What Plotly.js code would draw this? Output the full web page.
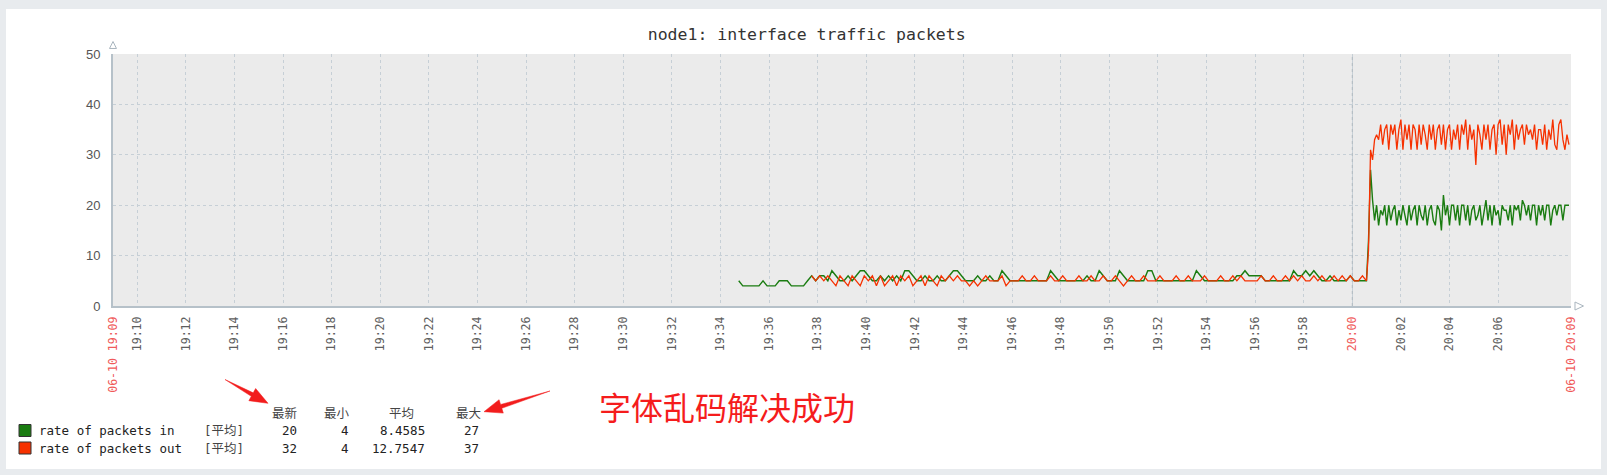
<!DOCTYPE html>
<html><head><meta charset="utf-8">
<script src="https://cdn.plot.ly/plotly-3.0.1.min.js"></script>
<style>
html,body{margin:0;padding:0;background:#e8ebee;width:1607px;height:475px;overflow:hidden;}
#chart{position:absolute;left:6px;top:9px;width:1595px;height:460px;background:#fff;}
</style></head><body><div id="chart"></div>
<script>
const chartTitle = 'node1: interface traffic packets';
const seriesNames = ['rate of packets in', 'rate of packets out'];
const seriesColors = ['#1a7c11', '#f63100'];
const dayPrefix = '2021-06-10 ';
const inLowStart = '19:34:45';
const outLowStart = '19:37:45';
const highStart = '20:00:40';
const lowStepSec = 10;
const highStepSec = 5;

const inLowValues = [5,4,4,4,4,4,5,4,4,4,5,5,5,4,4,4,4,5,
  6,5,6,6,5,7, 6,5,5,6,5,6, 7,7,6,5,5,6, 5,6,5,6,5,7, 7,6,5,5,6,5,
  5,6,5,5,6,7, 7,6,5,5,5,6, 5,5,6,5,5,7, 6,5,5,5,5,5, 5,5,5,5,5,7,
  6,5,5,5,5,5, 5,5,6,5,5,7, 6,5,5,5,7,6, 5,5,5,5,5,7, 7,5,5,5,5,5,
  5,5,5,5,5,7, 6,5,5,5,5,5, 5,5,5,6,6,7, 6,6,6,6,5,5, 5,5,5,5,5,7,
  6,6,7,6,7,6, 5,5,6,5,5,5, 5,6,5,5,5,5];

const outLowValues = [
  6,5,6,5,6,5, 4,6,5,4,6,5, 4,6,5,6,4,6, 4,5,6,4,6,5, 6,4,5,6,4,6,
  5,4,6,5,6,5, 6,5,5,4,5,4, 5,6,5,5,5,6, 4,5,5,5,6,5, 5,6,5,5,5,6,
  5,5,6,5,5,5, 6,5,5,6,5,5, 6,5,5,6,5,4, 5,6,5,5,6,5, 5,5,6,5,5,5,
  6,5,5,6,5,5, 5,6,5,5,5,6, 5,5,6,5,6,5, 5,5,5,6,5,5, 6,5,5,6,5,6,
  5,6,5,5,6,5, 6,5,5,6,5,6, 5,6,5,5,6,5];

const inHighValues = [13,27,21,17,20,16,19,18,20,16,
  20,17,19,20,16,19,17,20,18,16,
  20,17,19,20,16,20,18,17,20,16,
  19,20,17,16,20,19,15,22,18,20,
  16,20,20,17,20,16,20,20,17,20,
  16,19,20,17,18,20,16,19,21,17,
  20,16,20,18,19,16,20,19,19,17,
  20,16,20,19,20,17,21,20,18,20,
  17,20,20,16,20,18,20,17,20,20,
  16,19,20,18,20,20,17,20,20,20];

const outHighValues = [11,31,29,33,34,33,36,32,35,36,
  31,36,34,36,31,35,37,31,36,33,
  36,31,36,35,31,36,32,36,34,31,
  36,33,36,31,35,36,32,36,31,35,
  36,31,35,33,36,31,36,34,37,31,
  36,33,35,28,36,34,31,36,33,36,
  31,35,36,30,36,37,32,36,30,36,
  34,37,31,36,33,35,36,32,36,34,
  35,33,36,31,35,35,32,36,31,35,
  33,37,32,31,36,37,33,31,34,32];

const tickTimes = ['19:09','19:10','19:12','19:14','19:16','19:18','19:20','19:22','19:24','19:26','19:28',
  '19:30','19:32','19:34','19:36','19:38','19:40','19:42','19:44','19:46','19:48','19:50','19:52',
  '19:54','19:56','19:58','20:00','20:02','20:04','20:06','20:09'];
const tickLabels = ['06-10 19:09','19:10','19:12','19:14','19:16','19:18','19:20','19:22','19:24','19:26','19:28',
  '19:30','19:32','19:34','19:36','19:38','19:40','19:42','19:44','19:46','19:48','19:50','19:52',
  '19:54','19:56','19:58','20:00','20:02','20:04','20:06','06-10 20:09'];
const highlightedTicks = ['06-10 19:09','20:00','06-10 20:09'];
const xRange = ['19:09','20:09'];
const yRange = [0, 50];

const legendHeader = ['最新','最小','平均','最大'];
const legendFunc = '[平均]';
const legendStats = [['20','4','8.4585','27'], ['32','4','12.7547','37']];
const noteText = '字体乱码解决成功';

function timeSeq(start, step, n) {
  const t0 = Date.parse((dayPrefix + start).replace(' ', 'T') + 'Z');
  const out = [];
  for (let i = 0; i < n; i++) out.push(new Date(t0 + i * step * 1000).toISOString().slice(0, 19).replace('T', ' '));
  return out;
}

const inX = timeSeq(inLowStart, lowStepSec, inLowValues.length).concat(timeSeq(highStart, highStepSec, inHighValues.length));
const inY = inLowValues.concat(inHighValues);
const outX = timeSeq(outLowStart, lowStepSec, outLowValues.length).concat(timeSeq(highStart, highStepSec, outHighValues.length));
const outY = outLowValues.concat(outHighValues);

// page pixel -> paper helpers (plot area spans x 113..1571, y 54..306 on the page)
const PL = 113, PW = 1458, PB = 306, PH = 252;
const px = x => (x - PL) / PW;
const py = y => (PB - y) / PH;
function poly(pts) {
  return 'M ' + pts.map(p => px(p[0]).toFixed(5) + ',' + py(p[1]).toFixed(5)).join(' L ') + ' Z';
}

const traces = [
  {x: inX, y: inY, type: 'scatter', mode: 'lines', name: seriesNames[0], line: {color: seriesColors[0], width: 1.4}, hoverinfo: 'x+y'},
  {x: outX, y: outY, type: 'scatter', mode: 'lines', name: seriesNames[1], line: {color: seriesColors[1], width: 1.3}, hoverinfo: 'x+y'}
];

const ticktext = tickLabels.map(t => highlightedTicks.includes(t) ? '<span style="color:#f05a5a">' + t + '</span>' : t);

const monoFont = '"DejaVu Sans Mono", "Noto Sans CJK SC", monospace';
const cjkFont = '"Noto Sans CJK SC", "DejaVu Sans Mono", sans-serif';

const annotations = [];
const headRight = [298.5, 352, 416, 483];
legendHeader.forEach((h, i) => annotations.push({xref: 'paper', yref: 'paper', x: px(headRight[i]), y: py(412.5), xanchor: 'right', yanchor: 'middle', text: h, showarrow: false, font: {family: cjkFont, size: 12.5, color: '#444'}}));
const statRight = [298.5, 351, 427, 481];
const rowY = [430.7, 448.3];
seriesNames.forEach((n, r) => {
  annotations.push({xref: 'paper', yref: 'paper', x: px(37), y: py(rowY[r]), xanchor: 'left', yanchor: 'middle', text: n, showarrow: false, font: {family: monoFont, size: 12.5, color: '#222'}});
  annotations.push({xref: 'paper', yref: 'paper', x: px(202), y: py(rowY[r]), xanchor: 'left', yanchor: 'middle', text: legendFunc, showarrow: false, font: {family: monoFont, size: 12.5, color: '#444'}});
  legendStats[r].forEach((s, i) => annotations.push({xref: 'paper', yref: 'paper', x: px(statRight[i]), y: py(rowY[r]), xanchor: 'right', yanchor: 'middle', text: s, showarrow: false, font: {family: monoFont, size: 12.5, color: '#222'}}));
});
annotations.push({xref: 'paper', yref: 'paper', x: px(597), y: py(406), xanchor: 'left', yanchor: 'middle', text: noteText, showarrow: false, font: {family: cjkFont, size: 32, color: '#f51c1c'}});

const shapes = [
  {type: 'line', xref: 'x', yref: 'paper', x0: dayPrefix + '20:00', x1: dayPrefix + '20:00', y0: 0, y1: 1, line: {color: '#a9b4bc', width: 1, dash: 'dot'}, layer: 'below'},
  {type: 'path', xref: 'paper', yref: 'paper', path: poly([[109.5, 48.5], [116.5, 48.5], [113, 41.5]]), fillcolor: '#ffffff', line: {color: '#aab6bf', width: 1}},
  {type: 'path', xref: 'paper', yref: 'paper', path: poly([[1575, 302], [1575, 310], [1583.5, 306]]), fillcolor: '#ffffff', line: {color: '#aab6bf', width: 1}},
  {type: 'rect', xref: 'paper', yref: 'paper', x0: px(19), x1: px(31), y0: py(436.5), y1: py(424.5), fillcolor: seriesColors[0], line: {color: '#333', width: 1}},
  {type: 'rect', xref: 'paper', yref: 'paper', x0: px(19), x1: px(31), y0: py(454), y1: py(442), fillcolor: seriesColors[1], line: {color: '#333', width: 1}},
  {type: 'path', xref: 'paper', yref: 'paper', path: poly([[225, 379.5], [253.2, 392.85], [255.65, 388.5], [268, 403.3], [248.85, 400.7], [251.3, 396.35]]), fillcolor: '#f21d1d', line: {color: '#f21d1d', width: 0.5}},
  {type: 'path', xref: 'paper', yref: 'paper', path: poly([[550, 391], [500.6, 404.5], [499.1, 399.7], [484, 411.7], [503.3, 413.1], [501.8, 408.3]]), fillcolor: '#f21d1d', line: {color: '#f21d1d', width: 0.5}}
];

const layout = {
  width: 1595, height: 460,
  margin: {l: 107, r: 30, t: 45, b: 163, pad: 0},
  paper_bgcolor: '#ffffff',
  plot_bgcolor: '#ebebeb',
  showlegend: false,
  title: {text: chartTitle, x: 0.502, xref: 'container', xanchor: 'center', y: 1 - 25 / 460, yref: 'container', yanchor: 'middle',
    font: {family: monoFont, size: 16.5, color: '#333'}},
  xaxis: {
    type: 'date', range: xRange.map(t => dayPrefix + t), fixedrange: true,
    tickmode: 'array', tickvals: tickTimes.map(t => dayPrefix + t), ticktext: ticktext,
    tickangle: -90, tickfont: {family: monoFont, size: 11.5, color: '#5e5e5e'},
    ticks: 'outside', ticklen: 4, tickcolor: 'rgba(0,0,0,0)',
    showgrid: true, gridcolor: '#c6cfd6', griddash: 'dot', gridwidth: 1,
    showline: true, linecolor: '#b6c1c9', linewidth: 2, zeroline: false
  },
  yaxis: {
    range: yRange, dtick: 10, fixedrange: true,
    tickfont: {family: '"Liberation Sans", Arial, sans-serif', size: 13, color: '#555'},
    ticks: 'outside', ticklen: 8, tickcolor: 'rgba(0,0,0,0)',
    showgrid: true, gridcolor: '#c6cfd6', griddash: 'dot', gridwidth: 1,
    showline: true, linecolor: '#b6c1c9', linewidth: 2, zeroline: false
  },
  annotations: annotations,
  shapes: shapes
};

Plotly.newPlot('chart', traces, layout, {displayModeBar: false, staticPlot: true});
</script></body></html>
